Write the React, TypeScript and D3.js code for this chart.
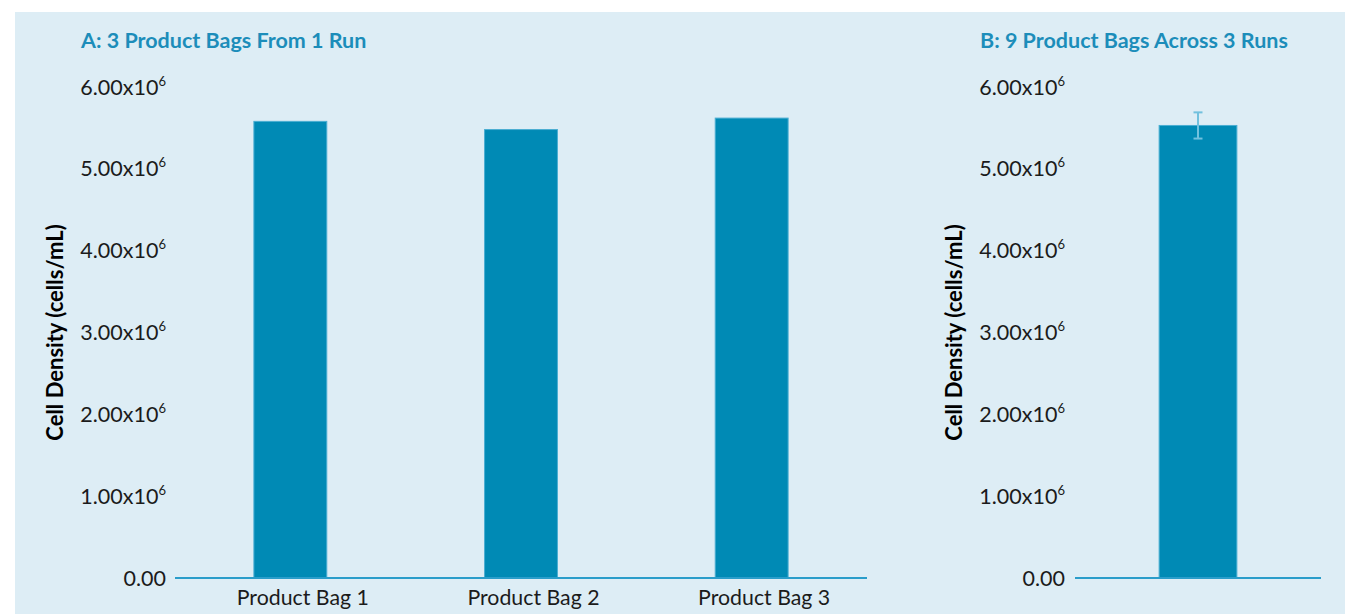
import React from "react";
import * as d3 from "d3";

// Panel A: individual product bags from a single run
const bagCategories = ["Product Bag 1", "Product Bag 2", "Product Bag 3"];
const bagDensities = [5.58e6, 5.48e6, 5.62e6];

// Panel B: mean of nine bags over three runs, with its spread
const pooledCategories = ["All bags"];
const pooledMeans = [5.53e6];
const pooledErrors = [0.16e6];

const yTickValues = [0, 1e6, 2e6, 3e6, 4e6, 5e6, 6e6];
const yTickMantissas = ["0.00", "1.00", "2.00", "3.00", "4.00", "5.00", "6.00"];

const panelTitles = ["A: 3 Product Bags From 1 Run", "B: 9 Product Bags Across 3 Runs"];
const yAxisTitle = "Cell Density (cells/mL)";

const W = 1345;
const H = 614;
const FONT = "Lato, 'Open Sans', sans-serif";
const TITLE_COLOR = "#1c8dba";
const BAR_FILL = "#008ab5";
const BAR_EDGE = "#4aaed2";
const AXIS_COLOR = "#2a9dca";
const ERR_COLOR = "#72c1de";
const TEXT_COLOR = "#1b1b1b";

const y = d3.scaleLinear().domain([0, 6e6]).range([578, 87]);

type PanelProps = {
  title: string;
  titleX: number;
  axisLeft: number;
  axisRight: number;
  labelRight: number;
  yTitleX: number;
  categories: string[];
  values: number[];
  errors?: number[];
  showCategoryLabels: boolean;
};

function Panel(p: PanelProps) {
  const x = d3
    .scaleBand<string>()
    .domain(p.categories)
    .range([p.axisLeft, p.axisRight])
    .padding(0);
  const barW = x.bandwidth() * 0.316;
  const [y0, y1] = y.range();
  // category labels sit slightly right of the bar centres
  const labelShift = 12.5;
  return (
    <g>
      <text
        x={p.titleX}
        y={47.5}
        fontFamily={FONT}
        fontWeight={700}
        fontSize={21.5}
        fill={TITLE_COLOR}
      >
        {p.title}
      </text>
      <text
        transform={`translate(${p.yTitleX},${(y0 + y1) / 2}) rotate(-90)`}
        textAnchor="middle"
        dominantBaseline="central"
        fontFamily={FONT}
        fontWeight={700}
        fontSize={22}
        fill="#000"
      >
        {yAxisTitle}
      </text>
      {yTickValues.map((v, i) => (
        <text
          key={v}
          x={p.labelRight}
          y={y(v) + 7.5}
          textAnchor="end"
          fontFamily={FONT}
          fontSize={21.5}
          fill={TEXT_COLOR}
        >
          {yTickMantissas[i]}
          {v !== 0 && (
            <>
              x10
              <tspan fontSize={13} dy={-9}>
                6
              </tspan>
            </>
          )}
        </text>
      ))}
      {p.values.map((v, i) => {
        const cx = (x(p.categories[i]) as number) + x.bandwidth() / 2;
        return (
          <rect
            key={p.categories[i]}
            x={cx - barW / 2}
            y={y(v)}
            width={barW}
            height={y(0) - y(v)}
            fill={BAR_FILL}
            stroke={BAR_EDGE}
            strokeWidth={1}
          />
        );
      })}
      {p.errors &&
        p.values.map((v, i) => {
          const cx = (x(p.categories[i]) as number) + x.bandwidth() / 2;
          const e = p.errors![i];
          const top = y(v + e);
          const bot = y(v - e);
          return (
            <g key={"err" + i} stroke={ERR_COLOR} strokeWidth={2}>
              <line x1={cx} x2={cx} y1={top} y2={bot} />
              <line x1={cx - 4.5} x2={cx + 4.5} y1={top} y2={top} />
              <line x1={cx - 4.5} x2={cx + 4.5} y1={bot} y2={bot} />
            </g>
          );
        })}
      <line
        x1={p.axisLeft}
        x2={p.axisRight}
        y1={y(0)}
        y2={y(0)}
        stroke={AXIS_COLOR}
        strokeWidth={2}
      />
      {p.showCategoryLabels &&
        p.categories.map((c) => (
          <text
            key={c}
            x={(x(c) as number) + x.bandwidth() / 2 + labelShift}
            y={604.5}
            textAnchor="middle"
            fontFamily={FONT}
            fontSize={21.3}
            fill={TEXT_COLOR}
          >
            {c}
          </text>
        ))}
    </g>
  );
}

export default function App() {
  return (
    <svg
      width={W}
      height={H}
      style={{ position: "absolute", left: 0, top: 0, display: "block" }}
    >
      <rect x={0} y={0} width={W} height={H} fill="#ffffff" />
      <rect x={15} y={12} width={W - 15} height={H - 12} fill="#ddedf5" />
      <Panel
        title={panelTitles[0]}
        titleX={81}
        axisLeft={175}
        axisRight={867}
        labelRight={166}
        yTitleX={54}
        categories={bagCategories}
        values={bagDensities}
        showCategoryLabels={true}
      />
      <Panel
        title={panelTitles[1]}
        titleX={980}
        axisLeft={1075}
        axisRight={1321}
        labelRight={1065}
        yTitleX={953}
        categories={pooledCategories}
        values={pooledMeans}
        errors={pooledErrors}
        showCategoryLabels={false}
      />
    </svg>
  );
}
